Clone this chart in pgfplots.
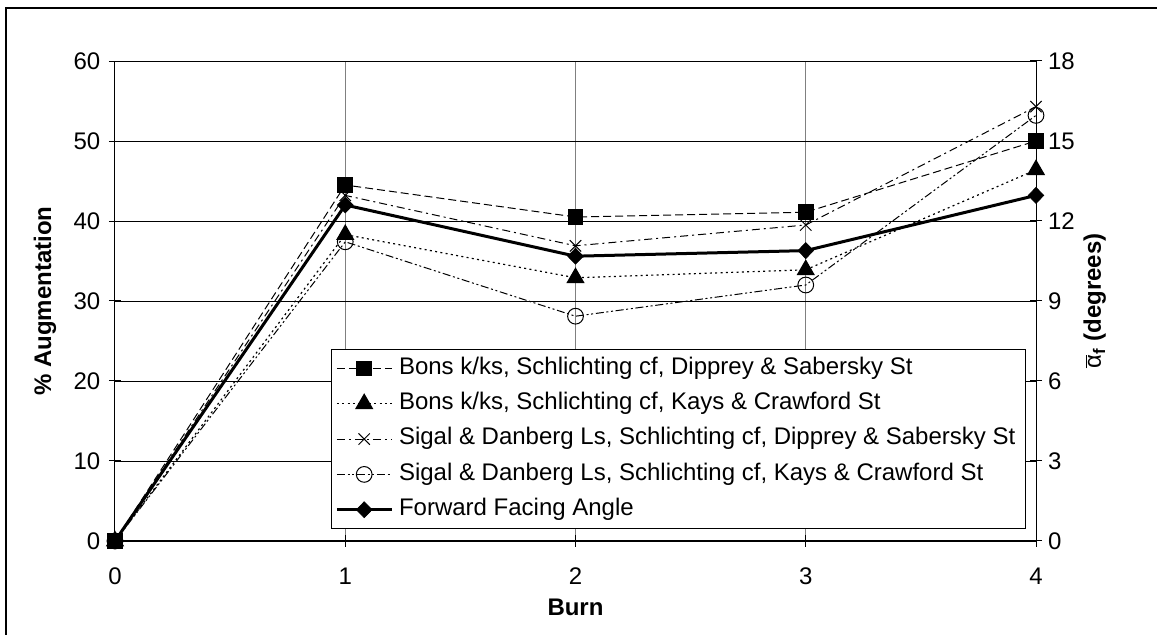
\documentclass[border=0pt]{standalone}
\usepackage{fontspec}
\setmainfont{Liberation Sans}
\usepackage{pgfplots}
\pgfplotsset{compat=1.18}
\begin{document}
\begin{tikzpicture}
\pgfplotsset{
  every axis/.append style={
    font=\fontsize{18}{21}\selectfont,
    /pgf/number format/assume math mode=true,
    scale only axis, width=690.75pt, height=360pt,
    xmin=0, xmax=4,
    tick align=center, major tick length=9pt,
    tick style={black, line width=0.75pt},
  },
}
\begin{axis}[
  at={(0,0)}, anchor=south west,
  ymin=0, ymax=60,
  xtick={0,1,2,3,4}, ytick={0,10,...,60},
  axis x line*=bottom, axis y line*=left,
  axis line style={line width=0.75pt},
  xmajorgrids, ymajorgrids,
  x grid style={gray, line width=0.75pt},
  y grid style={black, line width=0.6pt},
  xticklabel style={yshift=-12pt},
  yticklabel style={xshift=-3pt},
  xlabel={\textbf{Burn}},
  ylabel={\textbf{\% Augmentation}},
  xlabel style={at={(axis description cs:0.5,0)}, anchor=center, yshift=-50pt},
  ylabel style={at={(axis description cs:0,0.5)}, anchor=center, yshift=52.5pt},
  legend style={at={(axis description cs:0.2345,0.4)}, anchor=north west,
    draw=black, line width=0.6pt, fill=white,
    font=\fontsize{18}{21}\selectfont,
    nodes={inner sep=4.5pt, text height=13pt, text depth=4.5pt},
    inner xsep=3pt, inner ysep=1pt},
  legend cell align=left,
  legend image code/.code={
    \draw[mark repeat=2, mark phase=2, #1] plot coordinates {(0pt,0pt) (20.5pt,0pt) (41pt,0pt)};
  },
]
\addplot[black, line width=0.75pt, dash pattern=on 6pt off 3pt,
  mark=square*, mark size=5.5pt, mark options={solid}]
  coordinates {(0,0) (1,44.5) (2,40.5) (3,41.1) (4,50.0)};
\addlegendentry{Bons k/ks, Schlichting cf, Dipprey \& Sabersky St}
\addplot[black, line width=0.9pt, dash pattern=on 1.5pt off 2.5pt,
  mark=triangle*, mark size=7pt, mark options={solid}]
  coordinates {(0,0) (1,38.3) (2,32.9) (3,33.9) (4,46.4)};
\addlegendentry{Bons k/ks, Schlichting cf, Kays \& Crawford St}
\addplot[black, line width=0.75pt, dash pattern=on 6pt off 3pt on 1.5pt off 3pt,
  mark=x, mark size=6pt, mark options={solid, line width=0.75pt}]
  coordinates {(0,0) (1,43.2) (2,36.9) (3,39.5) (4,54.3)};
\addlegendentry{Sigal \& Danberg Ls, Schlichting cf, Dipprey \& Sabersky St}
\addplot[black, line width=0.75pt, dash pattern=on 6pt off 2pt on 1.5pt off 2pt on 1.5pt off 2pt,
  mark=o, mark size=5.9pt, mark options={solid, line width=0.75pt}]
  coordinates {(0,0) (1,37.4) (2,28.1) (3,32.0) (4,53.2)};
\addlegendentry{Sigal \& Danberg Ls, Schlichting cf, Kays \& Crawford St}
\addplot[black, line width=2.25pt, solid,
  mark=diamond*, mark size=6pt, mark options={solid, line width=0.5pt, xscale=1.3}]
  coordinates {(0,0) (1,42.0) (2,35.6) (3,36.3) (4,43.2)};
\addlegendentry{Forward Facing Angle}
\end{axis}
\begin{axis}[
  at={(0,0)}, anchor=south west,
  ymin=0, ymax=18, ytick={0,3,...,18},
  axis x line=none, axis y line*=right,
  axis line style={line width=0.75pt},
  yticklabel style={xshift=1pt},
  ylabel={\textbf{$\overline{\mbox{\normalfont α}}$\textsubscript{f} (degrees)}},
  ylabel style={at={(axis description cs:1,0.5)}, anchor=center, yshift=-44pt},
]
\end{axis}
\draw[black, line width=1.5pt] (-81.75pt,-72pt) -- (-81.75pt,399.75pt) -- (783pt,399.75pt);
\pgfresetboundingbox
\path[use as bounding box] (-86.25pt,-70.5pt) rectangle (781.5pt,405.75pt);
\end{tikzpicture}
\end{document}
